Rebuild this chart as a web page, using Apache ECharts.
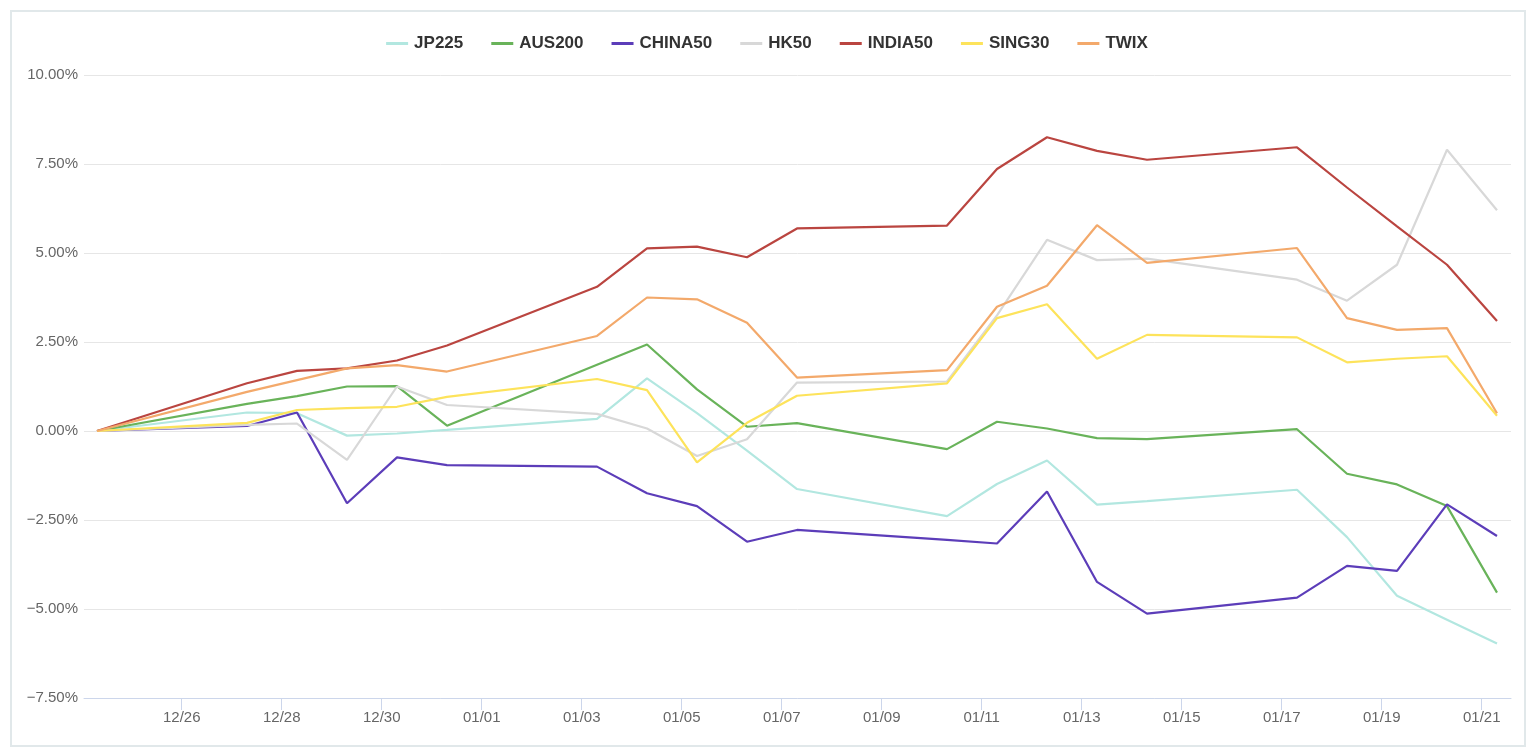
<!DOCTYPE html>
<html>
<head>
<meta charset="utf-8">
<script src="https://cdn.jsdelivr.net/npm/echarts@6/dist/echarts.min.js"></script>
<style>
html,body{margin:0;padding:0;background:#fff;width:1534px;height:756px;overflow:hidden}
#frame{position:absolute;left:10px;top:10px;width:1512px;height:733px;border:2px solid #e1e8ea}
#chart{position:absolute;left:0;top:0;width:1534px;height:756px}
</style>
</head>
<body>
<div id="frame"></div>
<div id="chart"></div>
<script>
// trading dates (each point sits at 07:20 local time)
const dates = ['2021-12-24','2021-12-27','2021-12-28','2021-12-29','2021-12-30','2021-12-31',
  '2022-01-03','2022-01-04','2022-01-05','2022-01-06','2022-01-07',
  '2022-01-10','2022-01-11','2022-01-12','2022-01-13','2022-01-14',
  '2022-01-17','2022-01-18','2022-01-19','2022-01-20','2022-01-21'];

const seriesNames = ['JP225','AUS200','CHINA50','HK50','INDIA50','SING30','TWIX'];

const JP225   = [0, 0.52, 0.50, -0.13, -0.07, 0.03, 0.34, 1.48, 0.50, -0.55, -1.63, -2.39, -1.49, -0.83, -2.07, -1.97, -1.65, -2.98, -4.63, -5.30, -5.97];
const AUS200  = [0, 0.76, 0.98, 1.25, 1.26, 0.15, 1.86, 2.43, 1.17, 0.12, 0.22, -0.51, 0.26, 0.07, -0.20, -0.23, 0.05, -1.20, -1.50, -2.11, -4.54];
const CHINA50 = [0, 0.14, 0.52, -2.03, -0.74, -0.96, -1.00, -1.75, -2.11, -3.11, -2.78, -3.06, -3.16, -1.70, -4.24, -5.13, -4.68, -3.79, -3.93, -2.06, -2.95];
const HK50    = [0, 0.17, 0.21, -0.81, 1.25, 0.73, 0.48, 0.07, -0.70, -0.23, 1.36, 1.39, 3.25, 5.37, 4.80, 4.84, 4.25, 3.66, 4.67, 7.90, 6.20];
const INDIA50 = [0, 1.34, 1.69, 1.76, 1.98, 2.40, 4.05, 5.13, 5.18, 4.88, 5.69, 5.77, 7.36, 8.25, 7.87, 7.62, 7.97, 6.84, 5.75, 4.67, 3.09];
const SING30  = [0, 0.23, 0.59, 0.64, 0.68, 0.96, 1.46, 1.15, -0.88, 0.23, 0.99, 1.34, 3.17, 3.56, 2.03, 2.70, 2.63, 1.93, 2.03, 2.10, 0.43];
const TWIX    = [0, 1.10, 1.43, 1.76, 1.85, 1.67, 2.67, 3.75, 3.70, 3.04, 1.50, 1.71, 3.49, 4.08, 5.78, 4.72, 5.14, 3.17, 2.84, 2.89, 0.50];

const tickDates = ['2021-12-26','2021-12-28','2021-12-30','2022-01-01','2022-01-03','2022-01-05','2022-01-07',
  '2022-01-09','2022-01-11','2022-01-13','2022-01-15','2022-01-17','2022-01-19','2022-01-21'];

const yTicks = [-7.5, -5, -2.5, 0, 2.5, 5, 7.5, 10];

const colors = ['#b2e7e0','#69b35a','#5c3db9','#d8d8d8','#ba4540','#fde35b','#f3a96b'];

function toTime(s, h, m) {
  const p = s.split('-').map(Number);
  return new Date(p[0], p[1] - 1, p[2], h || 0, m || 0).getTime();
}
const times = dates.map(d => toTime(d, 7, 20));
const tickTimes = tickDates.map(d => toTime(d, 0, 0));
const DAY = 86400000;

const allValues = [JP225, AUS200, CHINA50, HK50, INDIA50, SING30, TWIX];

const chart = echarts.init(document.getElementById('chart'), null, {renderer: 'canvas'});
const pad = n => (n < 10 ? '0' : '') + n;

chart.setOption({
  animation: false,
  color: colors,
  legend: {
    top: 30,
    left: 'center',
    icon: 'rect',
    itemWidth: 22,
    itemHeight: 3,
    itemGap: 28,
    textStyle: {fontFamily: 'Liberation Sans, Arial, sans-serif', fontSize: 17, fontWeight: 'bold', color: '#333333', padding: [0, 0, 0, 1]},
    data: seriesNames
  },
  grid: {left: 84, right: 23, top: 75, bottom: 58, containLabel: false},
  xAxis: {
    type: 'value',
    scale: true,
    min: times[0] - 0.26 * DAY,
    max: times[times.length - 1] + 0.28 * DAY,
    axisLine: {show: true, onZero: false, lineStyle: {color: '#ccd6eb', width: 1}},
    axisTick: {show: true, length: 12, lineStyle: {color: '#ccd6eb'}, customValues: tickTimes},
    axisLabel: {
      show: true,
      customValues: tickTimes,
      margin: 12,
      color: '#666666',
      fontFamily: 'Liberation Sans, Arial, sans-serif',
      fontSize: 15,
      formatter: function (v) { const d = new Date(v); return pad(d.getMonth() + 1) + '/' + pad(d.getDate()); }
    },
    splitLine: {show: false}
  },
  yAxis: {
    type: 'value',
    min: yTicks[0],
    max: yTicks[yTicks.length - 1],
    interval: 2.5,
    axisLine: {show: false},
    axisTick: {show: false},
    axisLabel: {
      margin: 6,
      color: '#666666',
      fontFamily: 'Liberation Sans, Arial, sans-serif',
      fontSize: 15,
      formatter: v => (v < 0 ? '\u2212' : '') + Math.abs(v).toFixed(2) + '%'
    },
    splitLine: {show: true, lineStyle: {color: '#e6e6e6', width: 1}}
  },
  series: seriesNames.map((name, i) => ({
    name: name,
    type: 'line',
    showSymbol: false,
    symbol: 'none',
    lineStyle: {width: 2.2, color: colors[i]},
    itemStyle: {color: colors[i]},
    emphasis: {disabled: true},
    data: times.map((t, j) => [t, allValues[i][j]])
  }))
});
</script>
</body>
</html>
